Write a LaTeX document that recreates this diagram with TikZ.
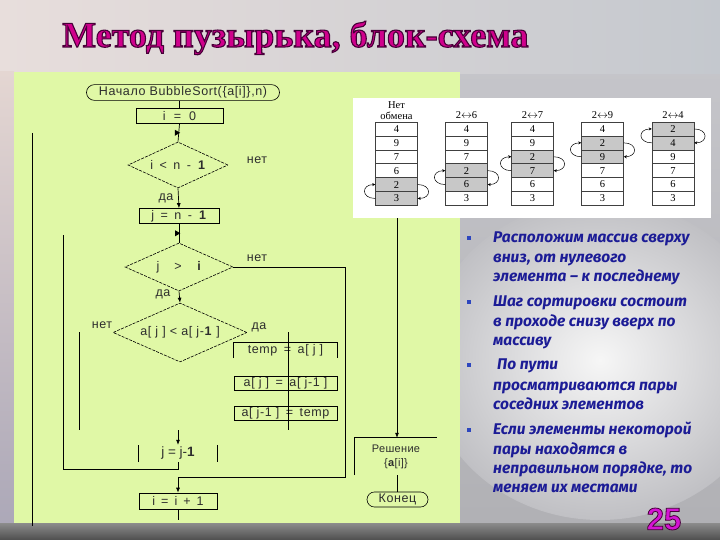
\documentclass[tikz,border=0pt]{standalone}
\usepackage{fontspec}
\setmainfont{Liberation Sans}
\newfontfamily\serifT{Liberation Serif}
\newfontfamily\bulletF{Fira Sans}
\usetikzlibrary{shapes.geometric,shapes.misc,arrows.meta,calc}
\definecolor{panel}{RGB}{224,248,166}
\definecolor{ink}{RGB}{45,45,45}
\definecolor{tblue}{RGB}{28,28,150}
\definecolor{bblue}{RGB}{45,70,190}
\definecolor{mag}{RGB}{208,0,140}
\definecolor{num}{RGB}{212,20,212}
\definecolor{cellgray}{RGB}{200,200,200}
\newcommand\mytitletext{Метод пузырька, блок-схема}
\newcommand\gap{\hspace{6.5pt}}
\newcommand\outlineon[1]{\special{pdf:literal direct 2 Tr #1 w 0.28 0 0.22 RG}}
\newcommand\outlineoff{\special{pdf:literal direct 0 Tr 0.4 w}}
\begin{document}
\begin{tikzpicture}[x=1pt,y=-1pt,
  fc/.style={font=\fontsize{12.5}{14}\selectfont\addfontfeature{LetterSpace=5}, text=ink},
  proc/.style={fc, draw=black, line width=0.7pt, minimum height=15pt, inner sep=1pt},
  bare/.style={fc, inner sep=1pt},
  term/.style={fc, rounded rectangle, draw=black, line width=0.6pt, minimum height=15pt, inner sep=2pt},
  dec/.style={fc, diamond, draw=black, line width=0.6pt, dash pattern=on 3pt off 1.2pt, inner sep=0pt},
  lbl/.style={fc},
  line/.style={draw=black, line width=0.7pt},
  arr/.style={line, -{Latex[length=5pt,width=4pt]}},
  tri/.style={isosceles triangle, isosceles triangle apex angle=60, fill=black, inner sep=1.4pt},
  cell/.style={draw=black!75, line width=0.5pt, minimum width=42pt, minimum height=13.9pt, inner sep=0pt, font=\serifT\fontsize{10.5}{10.5}\selectfont},
  hdr/.style={font=\serifT\fontsize{10.5}{10.5}\selectfont, inner sep=0pt},
  swp/.style={draw=black, line width=0.5pt, -{Stealth[length=3pt,width=3pt]}},
  btxt/.style={anchor=base west, inner sep=0pt, text=tblue, font=\bulletF\bfseries\itshape\fontsize{15.5}{17}\selectfont},
  bsq/.style={fill=bblue, minimum size=4.5pt, inner sep=0pt},
  ttl/.style={anchor=base west, inner sep=0pt, font=\serifT\bfseries\fontsize{36}{36}\selectfont}
]
\useasboundingbox (0,0) rectangle (720,540);
% ---------- background ----------
\shade[top color={rgb,255:red,200;green,200;blue,205}, bottom color={rgb,255:red,176;green,176;blue,180}] (0,0) rectangle (720,540);
\shade[left color={rgb,255:red,232;green,222;blue,220}, middle color={rgb,255:red,246;green,246;blue,246}, right color={rgb,255:red,196;green,200;blue,206}] (0,0) rectangle (720,74);
\shade[inner color={rgb,255:red,246;green,246;blue,246}, outer color={rgb,255:red,192;green,192;blue,196}] (600,360) ellipse (175 and 160);
\shade[top color={rgb,255:red,228;green,214;blue,210}, bottom color={rgb,255:red,172;green,168;blue,184}] (0,72) rectangle (14,524);
\shade[top color={rgb,255:red,140;green,140;blue,140}, bottom color={rgb,255:red,78;green,78;blue,78}] (0,523) rectangle (720,540);
\fill[panel] (14,72) rectangle (460,523);
% ---------- flowchart nodes ----------
\node[term, minimum width=197pt] (start) at (183,92.5) {Начало BubbleSort(\{a[i]\},n)};
\node[proc, minimum width=87pt] (i0) at (179.5,116) {i\hspace{8pt}=\hspace{8pt}0};
\node[dec, aspect=2.17, minimum width=100pt, minimum height=46pt] (d1) at (178,165) {i\gap<\gap n\gap-\gap\textbf{1}};
\node[proc, minimum width=80pt] (j0) at (179,216) {j\gap=\gap n\gap-\gap\textbf{1}};
\node[dec, aspect=2.25, minimum width=108pt, minimum height=48pt] (d2) at (179,267) {j\hspace{15pt}>\hspace{15pt}\textbf{i}};
\node[dec, aspect=2.27, minimum width=134pt, minimum height=59pt] (d3) at (180,332.5) {a[ j ] < a[ j-\textbf{1} ]};
\node[bare, minimum width=103pt, minimum height=15pt] (tmp) at (285.5,350.5) {temp\gap=\gap a[ j ]};
\node[proc, minimum width=103pt, minimum height=14pt] (s1) at (285.5,383) {a[ j ]\gap=\gap a[ j-1 ]};
\node[proc, minimum width=103pt, minimum height=14pt] (s2) at (285.5,413.5) {a[ j-1 ]\gap=\gap temp};
\node[bare, minimum width=78pt, minimum height=17pt, font=\fontsize{13.5}{15}\selectfont] (jj) at (178,453.5) {j = j-\textbf{1}};
\node[proc, minimum width=78pt, minimum height=16pt] (ii) at (178,501) {i\hspace{6pt}=\hspace{6pt}i\hspace{6pt}+\hspace{6pt}1};
\node[bare, minimum width=82pt, minimum height=37pt, align=center, font=\fontsize{11}{13}\selectfont\addfontfeature{LetterSpace=3}] (res) at (396,456.5) {Решение\\[1pt]\{\textbf{a}[i]\}};
\node[term, minimum width=65pt] (fin) at (397.5,499.5) {Конец};
% partial borders
\draw[line] (tmp.south west) -- (tmp.north west) -- (tmp.north east) -- (tmp.south east);
\draw[line] (jj.south west) -- (jj.north west);
\draw[line] (jj.north east) -- (jj.south east);
\draw[line] (res.south west) -- (res.north west) -- (res.north east);
% labels
\node[lbl] (l1) at (257,160) {нет};
\node[lbl] (l2) at (166,198) {да};
\node[lbl] (l3) at (257,258) {нет};
\node[lbl] (l4) at (163,294) {да};
\node[lbl] (l5) at (102,325) {нет};
\node[lbl] (l6) at (259,327) {да};
% coordinates
\coordinate (c1) at (288,332);
\coordinate (c2) at (288,430);
\coordinate (c3) at (178,430);
\coordinate (c4) at (178,469);
\coordinate (c5) at (63,469);
\coordinate (c6) at (63,235);
\coordinate (c7) at (32,133);
\coordinate (c8) at (32,526);
\coordinate (c9) at (79,332);
\coordinate (c10) at (79,430);
\coordinate (c11) at (345,267);
\coordinate (c12) at (345,477);
\coordinate (c13) at (178,477);
\coordinate (c14) at (397,218);
\coordinate (c15) at (178,520);
% connectors
\draw[line] (start.south -| i0.north) -- (i0.north);
\draw[line] (i0.south) -- node[tri, pos=0.5, xshift=-2.5pt] (m1) {} (d1.north);
\draw[arr] (d1.south) -- (j0.north);
\draw[line] (j0.south) -- node[tri, pos=0.5, xshift=-2.5pt] (m2) {} (d2.north);
\draw[arr] (d2.south) -- (d3.north);
\draw[line] (c1) -- (c2);
\draw[arr] (c3) -- (jj.north);
\draw[line] (jj.south) -- (c4) -- (c5) -- (c6);
\draw[line] (c7) -- (c8);
\draw[line] (c9) -- (c10);
\draw[arr] (d2.east) -- (c11) -- (c12) -- (c13) -- (ii.north);
\draw[line] (ii.south) -- (c15);
\draw[arr] (c14) -- (res.north -| c14);
\draw[line] (res.south -| fin.north) -- (fin.north);
% ---------- table picture ----------
\fill[white] (353,98) rectangle (711,218);
\node[hdr] (h1a) at (396.5,105) {Нет};
\node[hdr] (h1b) at (396.5,116) {обмена};
\node[hdr] (h2) at (466.5,115) {2$\leftrightarrow$6};
\node[hdr] (h3) at (532.5,115) {2$\leftrightarrow$7};
\node[hdr] (h4) at (602.5,115) {2$\leftrightarrow$9};
\node[hdr] (h5) at (673,115) {2$\leftrightarrow$4};
\foreach \c/\cx/\vals/\g in {1/396.5/{4,9,7,6,2,3}/5, 2/466.5/{4,9,7,2,6,3}/4, 3/532.5/{4,9,2,7,6,3}/3, 4/602.5/{4,2,9,7,6,3}/2, 5/673/{2,4,9,7,6,3}/1}{
  \foreach \v [count=\r] in \vals {
    \pgfmathsetmacro\yy{122+(\r-0.5)*13.9}
    \ifnum\r=\g \def\cf{cellgray}\else\ifnum\r=\numexpr\g+1\relax\def\cf{cellgray}\else\def\cf{white}\fi\fi
    \node[cell, fill=\cf] (cell\c-\r) at (\cx,\yy) {\v};
  }
}
\foreach \c/\g in {1/5, 2/4, 3/3, 4/2, 5/1}{
  \pgfmathtruncatemacro\h{\g+1}
  \draw[swp] (cell\c-\h.west) to[out=180,in=180,looseness=2.6] (cell\c-\g.west);
  \draw[swp] (cell\c-\g.east) to[out=0,in=0,looseness=2.6] (cell\c-\h.east);
}
% ---------- bullets ----------
\node[bsq] (q1) at (469,238) {};
\node[btxt] (b1a) at (493,242.5) {Расположим массив сверху};
\node[btxt] (b1b) at (493,262.5) {вниз, от нулевого};
\node[btxt] (b1c) at (493,281.5) {элемента – к последнему};
\node[bsq] (q2) at (469,302) {};
\node[btxt] (b2a) at (493,306.5) {Шаг сортировки состоит};
\node[btxt] (b2b) at (493,326.5) {в проходе снизу вверх по};
\node[btxt] (b2c) at (493,345.5) {массиву};
\node[bsq] (q3) at (469,365) {};
\node[btxt] (b3a) at (497,369.5) {По пути};
\node[btxt] (b3b) at (493,390.5) {просматриваются пары};
\node[btxt] (b3c) at (493,409.5) {соседних элементов};
\node[bsq] (q4) at (469,430) {};
\node[btxt] (b4a) at (493,434.5) {Если элементы некоторой};
\node[btxt] (b4b) at (493,454.5) {пары находятся в};
\node[btxt] (b4c) at (493,473.5) {неправильном порядке, то};
\node[btxt] (b4d) at (493,492.5) {меняем их местами};
% ---------- title and page number ----------
\node[ttl, text=mag] (title) at (62,47) {\outlineon{1.1}\mytitletext\outlineoff};
\node[font=\bfseries\fontsize{31}{31}\selectfont, text=num, inner sep=0pt] (pn) at (664,519) {\outlineon{0.8}25\outlineoff};
\end{tikzpicture}
\end{document}
